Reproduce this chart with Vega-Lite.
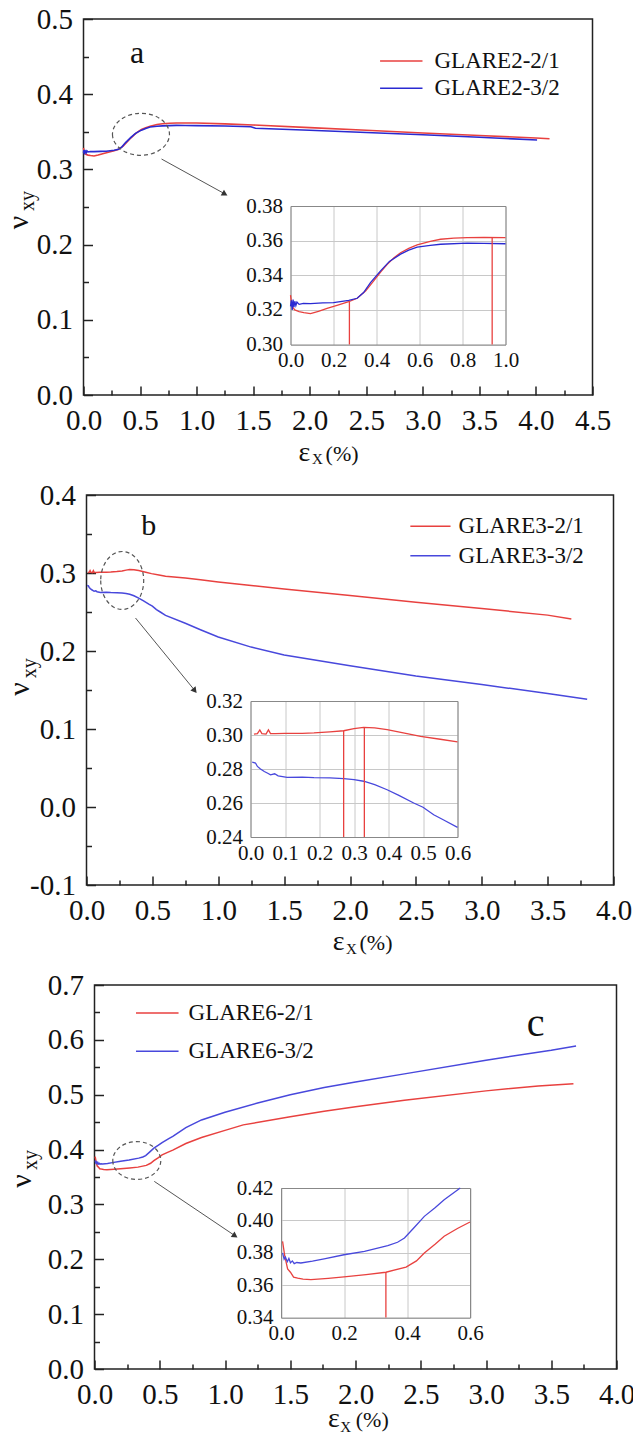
{
  "$schema": "https://vega.github.io/schema/vega-lite/v6.json",
  "background": "white",
  "padding": {"left": 2.5, "top": 4, "right": 0, "bottom": 0},
  "config": {
    "view": {"stroke": "#222", "strokeWidth": 1.5},
    "font": "Liberation Serif",
    "axis": {"labelFont": "Liberation Serif", "labelColor": "#111", "tickColor": "#222", "domainColor": "#222", "labelFlush": false, "labelOverlap": false},
    "text": {"font": "Liberation Serif", "color": "#111"}
  },
  "datasets": {
    "a": [
      {"x": 0, "v": 0.3285, "s": "GLARE2-2/1"}, {"x": 0.005, "v": 0.324, "s": "GLARE2-2/1"}, {"x": 0.01, "v": 0.3215, "s": "GLARE2-2/1"}, {"x": 0.02, "v": 0.32, "s": "GLARE2-2/1"}, {"x": 0.04, "v": 0.319, "s": "GLARE2-2/1"}, {"x": 0.062, "v": 0.3184, "s": "GLARE2-2/1"}, {"x": 0.093, "v": 0.3178, "s": "GLARE2-2/1"}, {"x": 0.13, "v": 0.3192, "s": "GLARE2-2/1"}, {"x": 0.17, "v": 0.3209, "s": "GLARE2-2/1"}, {"x": 0.22, "v": 0.3228, "s": "GLARE2-2/1"}, {"x": 0.271, "v": 0.3247, "s": "GLARE2-2/1"}, {"x": 0.31, "v": 0.3267, "s": "GLARE2-2/1"}, {"x": 0.35, "v": 0.331, "s": "GLARE2-2/1"}, {"x": 0.387, "v": 0.3367, "s": "GLARE2-2/1"}, {"x": 0.42, "v": 0.342, "s": "GLARE2-2/1"}, {"x": 0.45, "v": 0.3463, "s": "GLARE2-2/1"}, {"x": 0.48, "v": 0.35, "s": "GLARE2-2/1"}, {"x": 0.512, "v": 0.353, "s": "GLARE2-2/1"}, {"x": 0.55, "v": 0.3555, "s": "GLARE2-2/1"}, {"x": 0.589, "v": 0.3575, "s": "GLARE2-2/1"}, {"x": 0.65, "v": 0.3596, "s": "GLARE2-2/1"}, {"x": 0.698, "v": 0.3608, "s": "GLARE2-2/1"}, {"x": 0.76, "v": 0.3614, "s": "GLARE2-2/1"}, {"x": 0.822, "v": 0.3617, "s": "GLARE2-2/1"}, {"x": 0.9, "v": 0.3618, "s": "GLARE2-2/1"}, {"x": 1.0, "v": 0.3617, "s": "GLARE2-2/1"}, {"x": 1.25, "v": 0.3605, "s": "GLARE2-2/1"}, {"x": 1.5, "v": 0.359, "s": "GLARE2-2/1"}, {"x": 2.0, "v": 0.3555, "s": "GLARE2-2/1"}, {"x": 2.5, "v": 0.352, "s": "GLARE2-2/1"}, {"x": 3.0, "v": 0.3485, "s": "GLARE2-2/1"}, {"x": 3.5, "v": 0.345, "s": "GLARE2-2/1"}, {"x": 4.0, "v": 0.3418, "s": "GLARE2-2/1"}, {"x": 4.12, "v": 0.3408, "s": "GLARE2-2/1"},
      {"x": 0, "v": 0.322, "s": "GLARE2-3/2"}, {"x": 0.004, "v": 0.3255, "s": "GLARE2-3/2"}, {"x": 0.008, "v": 0.32, "s": "GLARE2-3/2"}, {"x": 0.012, "v": 0.326, "s": "GLARE2-3/2"}, {"x": 0.016, "v": 0.3215, "s": "GLARE2-3/2"}, {"x": 0.02, "v": 0.325, "s": "GLARE2-3/2"}, {"x": 0.025, "v": 0.3225, "s": "GLARE2-3/2"}, {"x": 0.03, "v": 0.3245, "s": "GLARE2-3/2"}, {"x": 0.04, "v": 0.3232, "s": "GLARE2-3/2"}, {"x": 0.06, "v": 0.3238, "s": "GLARE2-3/2"}, {"x": 0.093, "v": 0.3236, "s": "GLARE2-3/2"}, {"x": 0.15, "v": 0.324, "s": "GLARE2-3/2"}, {"x": 0.2, "v": 0.3242, "s": "GLARE2-3/2"}, {"x": 0.271, "v": 0.3255, "s": "GLARE2-3/2"}, {"x": 0.31, "v": 0.3267, "s": "GLARE2-3/2"}, {"x": 0.34, "v": 0.33, "s": "GLARE2-3/2"}, {"x": 0.372, "v": 0.3357, "s": "GLARE2-3/2"}, {"x": 0.419, "v": 0.3425, "s": "GLARE2-3/2"}, {"x": 0.46, "v": 0.348, "s": "GLARE2-3/2"}, {"x": 0.512, "v": 0.3522, "s": "GLARE2-3/2"}, {"x": 0.55, "v": 0.3545, "s": "GLARE2-3/2"}, {"x": 0.589, "v": 0.3563, "s": "GLARE2-3/2"}, {"x": 0.65, "v": 0.3573, "s": "GLARE2-3/2"}, {"x": 0.698, "v": 0.3579, "s": "GLARE2-3/2"}, {"x": 0.822, "v": 0.3586, "s": "GLARE2-3/2"}, {"x": 0.9, "v": 0.3584, "s": "GLARE2-3/2"}, {"x": 1.0, "v": 0.3582, "s": "GLARE2-3/2"}, {"x": 1.25, "v": 0.3577, "s": "GLARE2-3/2"}, {"x": 1.48, "v": 0.3568, "s": "GLARE2-3/2"}, {"x": 1.52, "v": 0.3548, "s": "GLARE2-3/2"}, {"x": 2.0, "v": 0.352, "s": "GLARE2-3/2"}, {"x": 2.5, "v": 0.349, "s": "GLARE2-3/2"}, {"x": 3.0, "v": 0.346, "s": "GLARE2-3/2"}, {"x": 3.5, "v": 0.3428, "s": "GLARE2-3/2"}, {"x": 4.01, "v": 0.339, "s": "GLARE2-3/2"}
    ],
    "b": [
      {"x": 0.01, "v": 0.3005, "s": "GLARE3-2/1"}, {"x": 0.02, "v": 0.3008, "s": "GLARE3-2/1"}, {"x": 0.027, "v": 0.303, "s": "GLARE3-2/1"}, {"x": 0.033, "v": 0.3008, "s": "GLARE3-2/1"}, {"x": 0.045, "v": 0.3005, "s": "GLARE3-2/1"}, {"x": 0.052, "v": 0.303, "s": "GLARE3-2/1"}, {"x": 0.058, "v": 0.3008, "s": "GLARE3-2/1"}, {"x": 0.072, "v": 0.3008, "s": "GLARE3-2/1"}, {"x": 0.1, "v": 0.301, "s": "GLARE3-2/1"}, {"x": 0.15, "v": 0.301, "s": "GLARE3-2/1"}, {"x": 0.184, "v": 0.3012, "s": "GLARE3-2/1"}, {"x": 0.23, "v": 0.3018, "s": "GLARE3-2/1"}, {"x": 0.27, "v": 0.3025, "s": "GLARE3-2/1"}, {"x": 0.3, "v": 0.3037, "s": "GLARE3-2/1"}, {"x": 0.328, "v": 0.3045, "s": "GLARE3-2/1"}, {"x": 0.36, "v": 0.3042, "s": "GLARE3-2/1"}, {"x": 0.396, "v": 0.3031, "s": "GLARE3-2/1"}, {"x": 0.45, "v": 0.301, "s": "GLARE3-2/1"}, {"x": 0.493, "v": 0.2992, "s": "GLARE3-2/1"}, {"x": 0.55, "v": 0.2975, "s": "GLARE3-2/1"}, {"x": 0.6, "v": 0.2959, "s": "GLARE3-2/1"}, {"x": 0.75, "v": 0.2935, "s": "GLARE3-2/1"}, {"x": 0.865, "v": 0.2914, "s": "GLARE3-2/1"}, {"x": 1.0, "v": 0.2885, "s": "GLARE3-2/1"}, {"x": 1.25, "v": 0.284, "s": "GLARE3-2/1"}, {"x": 1.5, "v": 0.2795, "s": "GLARE3-2/1"}, {"x": 2.0, "v": 0.271, "s": "GLARE3-2/1"}, {"x": 2.5, "v": 0.2625, "s": "GLARE3-2/1"}, {"x": 3.0, "v": 0.2545, "s": "GLARE3-2/1"}, {"x": 3.5, "v": 0.246, "s": "GLARE3-2/1"}, {"x": 3.68, "v": 0.241, "s": "GLARE3-2/1"},
      {"x": 0.005, "v": 0.284, "s": "GLARE3-3/2"}, {"x": 0.0145, "v": 0.2835, "s": "GLARE3-3/2"}, {"x": 0.02, "v": 0.2815, "s": "GLARE3-3/2"}, {"x": 0.029, "v": 0.28, "s": "GLARE3-3/2"}, {"x": 0.04, "v": 0.2785, "s": "GLARE3-3/2"}, {"x": 0.05, "v": 0.2775, "s": "GLARE3-3/2"}, {"x": 0.058, "v": 0.2766, "s": "GLARE3-3/2"}, {"x": 0.07, "v": 0.2772, "s": "GLARE3-3/2"}, {"x": 0.08, "v": 0.276, "s": "GLARE3-3/2"}, {"x": 0.106, "v": 0.2751, "s": "GLARE3-3/2"}, {"x": 0.15, "v": 0.2752, "s": "GLARE3-3/2"}, {"x": 0.184, "v": 0.2749, "s": "GLARE3-3/2"}, {"x": 0.23, "v": 0.2748, "s": "GLARE3-3/2"}, {"x": 0.27, "v": 0.2743, "s": "GLARE3-3/2"}, {"x": 0.3, "v": 0.2738, "s": "GLARE3-3/2"}, {"x": 0.328, "v": 0.2728, "s": "GLARE3-3/2"}, {"x": 0.36, "v": 0.2708, "s": "GLARE3-3/2"}, {"x": 0.396, "v": 0.2678, "s": "GLARE3-3/2"}, {"x": 0.43, "v": 0.2645, "s": "GLARE3-3/2"}, {"x": 0.473, "v": 0.26, "s": "GLARE3-3/2"}, {"x": 0.5, "v": 0.2575, "s": "GLARE3-3/2"}, {"x": 0.531, "v": 0.2531, "s": "GLARE3-3/2"}, {"x": 0.56, "v": 0.25, "s": "GLARE3-3/2"}, {"x": 0.6, "v": 0.2457, "s": "GLARE3-3/2"}, {"x": 0.75, "v": 0.2355, "s": "GLARE3-3/2"}, {"x": 0.865, "v": 0.2273, "s": "GLARE3-3/2"}, {"x": 1.0, "v": 0.218, "s": "GLARE3-3/2"}, {"x": 1.25, "v": 0.205, "s": "GLARE3-3/2"}, {"x": 1.5, "v": 0.195, "s": "GLARE3-3/2"}, {"x": 2.0, "v": 0.181, "s": "GLARE3-3/2"}, {"x": 2.5, "v": 0.168, "s": "GLARE3-3/2"}, {"x": 3.0, "v": 0.157, "s": "GLARE3-3/2"}, {"x": 3.5, "v": 0.1455, "s": "GLARE3-3/2"}, {"x": 3.8, "v": 0.138, "s": "GLARE3-3/2"}
    ],
    "c": [
      {"x": 0.005, "v": 0.387, "s": "GLARE6-2/1"}, {"x": 0.012, "v": 0.378, "s": "GLARE6-2/1"}, {"x": 0.021, "v": 0.37, "s": "GLARE6-2/1"}, {"x": 0.03, "v": 0.368, "s": "GLARE6-2/1"}, {"x": 0.04, "v": 0.365, "s": "GLARE6-2/1"}, {"x": 0.053, "v": 0.3644, "s": "GLARE6-2/1"}, {"x": 0.07, "v": 0.3638, "s": "GLARE6-2/1"}, {"x": 0.095, "v": 0.3634, "s": "GLARE6-2/1"}, {"x": 0.15, "v": 0.3642, "s": "GLARE6-2/1"}, {"x": 0.2, "v": 0.3651, "s": "GLARE6-2/1"}, {"x": 0.27, "v": 0.3665, "s": "GLARE6-2/1"}, {"x": 0.333, "v": 0.368, "s": "GLARE6-2/1"}, {"x": 0.397, "v": 0.3712, "s": "GLARE6-2/1"}, {"x": 0.43, "v": 0.375, "s": "GLARE6-2/1"}, {"x": 0.455, "v": 0.3799, "s": "GLARE6-2/1"}, {"x": 0.49, "v": 0.3855, "s": "GLARE6-2/1"}, {"x": 0.518, "v": 0.3902, "s": "GLARE6-2/1"}, {"x": 0.56, "v": 0.395, "s": "GLARE6-2/1"}, {"x": 0.6, "v": 0.399, "s": "GLARE6-2/1"}, {"x": 0.7, "v": 0.411, "s": "GLARE6-2/1"}, {"x": 0.82, "v": 0.422, "s": "GLARE6-2/1"}, {"x": 1.0, "v": 0.435, "s": "GLARE6-2/1"}, {"x": 1.14, "v": 0.445, "s": "GLARE6-2/1"}, {"x": 1.5, "v": 0.46, "s": "GLARE6-2/1"}, {"x": 1.76, "v": 0.47, "s": "GLARE6-2/1"}, {"x": 2.0, "v": 0.478, "s": "GLARE6-2/1"}, {"x": 2.375, "v": 0.49, "s": "GLARE6-2/1"}, {"x": 3.0, "v": 0.507, "s": "GLARE6-2/1"}, {"x": 3.4, "v": 0.516, "s": "GLARE6-2/1"}, {"x": 3.67, "v": 0.52, "s": "GLARE6-2/1"},
      {"x": 0.005, "v": 0.38, "s": "GLARE6-3/2"}, {"x": 0.01, "v": 0.376, "s": "GLARE6-3/2"}, {"x": 0.014, "v": 0.3774, "s": "GLARE6-3/2"}, {"x": 0.02, "v": 0.3745, "s": "GLARE6-3/2"}, {"x": 0.025, "v": 0.3765, "s": "GLARE6-3/2"}, {"x": 0.03, "v": 0.3738, "s": "GLARE6-3/2"}, {"x": 0.036, "v": 0.375, "s": "GLARE6-3/2"}, {"x": 0.042, "v": 0.3733, "s": "GLARE6-3/2"}, {"x": 0.05, "v": 0.374, "s": "GLARE6-3/2"}, {"x": 0.063, "v": 0.3737, "s": "GLARE6-3/2"}, {"x": 0.1, "v": 0.3748, "s": "GLARE6-3/2"}, {"x": 0.137, "v": 0.3762, "s": "GLARE6-3/2"}, {"x": 0.2, "v": 0.3788, "s": "GLARE6-3/2"}, {"x": 0.265, "v": 0.3809, "s": "GLARE6-3/2"}, {"x": 0.339, "v": 0.3844, "s": "GLARE6-3/2"}, {"x": 0.37, "v": 0.3865, "s": "GLARE6-3/2"}, {"x": 0.392, "v": 0.3891, "s": "GLARE6-3/2"}, {"x": 0.42, "v": 0.395, "s": "GLARE6-3/2"}, {"x": 0.455, "v": 0.4025, "s": "GLARE6-3/2"}, {"x": 0.49, "v": 0.408, "s": "GLARE6-3/2"}, {"x": 0.518, "v": 0.4128, "s": "GLARE6-3/2"}, {"x": 0.569, "v": 0.42, "s": "GLARE6-3/2"}, {"x": 0.6, "v": 0.424, "s": "GLARE6-3/2"}, {"x": 0.7, "v": 0.44, "s": "GLARE6-3/2"}, {"x": 0.82, "v": 0.454, "s": "GLARE6-3/2"}, {"x": 1.0, "v": 0.468, "s": "GLARE6-3/2"}, {"x": 1.25, "v": 0.485, "s": "GLARE6-3/2"}, {"x": 1.5, "v": 0.5, "s": "GLARE6-3/2"}, {"x": 1.76, "v": 0.513, "s": "GLARE6-3/2"}, {"x": 2.0, "v": 0.523, "s": "GLARE6-3/2"}, {"x": 2.375, "v": 0.538, "s": "GLARE6-3/2"}, {"x": 3.0, "v": 0.563, "s": "GLARE6-3/2"}, {"x": 3.5, "v": 0.581, "s": "GLARE6-3/2"}, {"x": 3.69, "v": 0.589, "s": "GLARE6-3/2"}
    ],
    "ra": [{"x": 0.274, "y0": 0.3, "y1": 0.325}, {"x": 0.938, "y0": 0.3, "y1": 0.3617}],
    "rb": [{"x": 0.27, "y0": 0.24, "y1": 0.3025}, {"x": 0.33, "y0": 0.24, "y1": 0.3045}],
    "rc": [{"x": 0.333, "y0": 0.34, "y1": 0.368}]
  },
  "vconcat": [
    {"spacing": 0, "hconcat": [
    {"width": 1, "height": 10, "data": {"values": []}, "mark": "point", "view": {"stroke": null}},
    {
      "width": 509, "height": 376,
      "layer": [
        {
          "layer": [
            {
              "data": {"name": "a"},
              "mark": {"type": "line", "strokeWidth": 1.6},
              "encoding": {
                "x": {"field": "x", "type": "quantitative", "scale": {"domain": [0, 4.5], "nice": false, "zero": false},
                  "axis": {"orient": "bottom", "values": [0, 0.5, 1, 1.5, 2, 2.5, 3, 3.5, 4, 4.5], "format": ".1f", "title": null, "grid": false, "domain": false, "tickSize": -9, "tickWidth": 1.5, "labelPadding": 20, "labelFontSize": 29, "labelFont": "Liberation Serif"}},
                "y": {"field": "v", "type": "quantitative", "scale": {"domain": [0, 0.5], "nice": false, "zero": false},
                  "axis": {"orient": "left", "values": [0, 0.1, 0.2, 0.3, 0.4, 0.5], "format": ".1f", "title": null, "grid": false, "domain": false, "tickSize": -9, "tickWidth": 1.5, "labelPadding": 20, "labelFontSize": 29, "labelFont": "Liberation Serif"}},
                "color": {"field": "s", "type": "nominal", "scale": {"domain": ["GLARE2-2/1", "GLARE2-3/2"], "range": ["#e8413f", "#2a2ad2"]}, "legend": null}
              }
            },
            {
              "data": {"values": [{}]},
              "mark": {"type": "point", "shape": "M-1,0A1,0.737 0 1,0 1,0A1,0.737 0 1,0 -1,0", "size": 3249, "filled": false, "stroke": "#555", "strokeWidth": 1.2, "strokeDash": [4, 3], "opacity": 1},
              "encoding": {
                "x": {"datum": 0.508, "type": "quantitative", "scale": {"domain": [0, 4.5], "nice": false, "zero": false},
                  "axis": {"orient": "bottom", "values": [0.25, 0.75, 1.25, 1.75, 2.25, 2.75, 3.25, 3.75, 4.25], "labels": false, "domain": false, "grid": false, "tickSize": -5, "tickWidth": 1.5, "title": null}},
                "y": {"datum": 0.3467, "type": "quantitative", "scale": {"domain": [0, 0.5], "nice": false, "zero": false},
                  "axis": {"orient": "left", "values": [0.05, 0.15, 0.25, 0.35, 0.45], "labels": false, "domain": false, "grid": false, "tickSize": -5, "tickWidth": 1.5, "title": null}}
              }
            },
            {
              "data": {"values": [{}]},
              "mark": {"type": "rule", "stroke": "#555", "strokeWidth": 1},
              "encoding": {
                "x": {"datum": 0.69, "type": "quantitative", "scale": {"domain": [0, 4.5], "nice": false, "zero": false}, "axis": null},
                "y": {"datum": 0.3138, "type": "quantitative", "scale": {"domain": [0, 0.5], "nice": false, "zero": false}, "axis": null},
                "x2": {"datum": 1.256}, "y2": {"datum": 0.2669}
              }
            },
            {
              "data": {"values": [{}]},
              "mark": {"type": "point", "shape": "triangle-right", "size": 45, "filled": true, "color": "#333", "angle": 29, "opacity": 1},
              "encoding": {
                "x": {"datum": 1.25, "type": "quantitative", "scale": {"domain": [0, 4.5], "nice": false, "zero": false}, "axis": null},
                "y": {"datum": 0.2673, "type": "quantitative", "scale": {"domain": [0, 0.5], "nice": false, "zero": false}, "axis": null}
              }
            },
            {
              "data": {"values": [{}]},
              "mark": {"type": "rule", "color": "#e8413f", "strokeWidth": 1.5},
              "encoding": {
                "x": {"datum": 2.622, "type": "quantitative", "scale": {"domain": [0, 4.5], "nice": false, "zero": false}, "axis": null},
                "x2": {"datum": 2.997},
                "y": {"datum": 0.4441, "type": "quantitative", "scale": {"domain": [0, 0.5], "nice": false, "zero": false}, "axis": null}
              }
            },
            {
              "data": {"values": [{}]},
              "mark": {"type": "rule", "color": "#2a2ad2", "strokeWidth": 1.5},
              "encoding": {
                "x": {"datum": 2.622, "type": "quantitative", "scale": {"domain": [0, 4.5], "nice": false, "zero": false}, "axis": null},
                "x2": {"datum": 2.997},
                "y": {"datum": 0.4078, "type": "quantitative", "scale": {"domain": [0, 0.5], "nice": false, "zero": false}, "axis": null}
              }
            },
            {
              "data": {"values": [{}]},
              "mark": {"type": "text", "text": "GLARE2-2/1", "fontSize": 23, "align": "left", "baseline": "middle"},
              "encoding": {
                "x": {"datum": 3.103, "type": "quantitative", "scale": {"domain": [0, 4.5], "nice": false, "zero": false}, "axis": null},
                "y": {"datum": 0.4441, "type": "quantitative", "scale": {"domain": [0, 0.5], "nice": false, "zero": false}, "axis": null}
              }
            },
            {
              "data": {"values": [{}]},
              "mark": {"type": "text", "text": "GLARE2-3/2", "fontSize": 23, "align": "left", "baseline": "middle"},
              "encoding": {
                "x": {"datum": 3.103, "type": "quantitative", "scale": {"domain": [0, 4.5], "nice": false, "zero": false}, "axis": null},
                "y": {"datum": 0.4078, "type": "quantitative", "scale": {"domain": [0, 0.5], "nice": false, "zero": false}, "axis": null}
              }
            },
            {
              "data": {"values": [{}]},
              "mark": {"type": "text", "text": "a", "fontSize": 32, "align": "center", "baseline": "alphabetic"},
              "encoding": {
                "x": {"datum": 0.474, "type": "quantitative", "scale": {"domain": [0, 4.5], "nice": false, "zero": false}, "axis": null},
                "y": {"datum": 0.442, "type": "quantitative", "scale": {"domain": [0, 0.5], "nice": false, "zero": false}, "axis": null}
              }
            },
            {
              "data": {"values": [{}]},
              "mark": {"type": "text", "text": "ν", "fontSize": 30, "angle": 270, "align": "center", "baseline": "alphabetic"},
              "encoding": {
                "x": {"datum": -0.4863, "type": "quantitative", "scale": {"domain": [0, 4.5], "nice": false, "zero": false}, "axis": null},
                "y": {"datum": 0.2294, "type": "quantitative", "scale": {"domain": [0, 0.5], "nice": false, "zero": false}, "axis": null}
              }
            },
            {
              "data": {"values": [{}]},
              "mark": {"type": "text", "text": "xy", "fontSize": 20, "angle": 270, "align": "center", "baseline": "alphabetic"},
              "encoding": {
                "x": {"datum": -0.4333, "type": "quantitative", "scale": {"domain": [0, 4.5], "nice": false, "zero": false}, "axis": null},
                "y": {"datum": 0.258, "type": "quantitative", "scale": {"domain": [0, 0.5], "nice": false, "zero": false}, "axis": null}
              }
            },
            {
              "data": {"values": [{}]},
              "mark": {"type": "text", "text": "ε", "fontSize": 28, "align": "center", "baseline": "alphabetic"},
              "encoding": {
                "x": {"datum": 1.952, "type": "quantitative", "scale": {"domain": [0, 4.5], "nice": false, "zero": false}, "axis": null},
                "y": {"datum": -0.0878, "type": "quantitative", "scale": {"domain": [0, 0.5], "nice": false, "zero": false}, "axis": null}
              }
            },
            {
              "data": {"values": [{}]},
              "mark": {"type": "text", "text": "X", "fontSize": 15, "align": "center", "baseline": "alphabetic"},
              "encoding": {
                "x": {"datum": 2.069, "type": "quantitative", "scale": {"domain": [0, 4.5], "nice": false, "zero": false}, "axis": null},
                "y": {"datum": -0.0918, "type": "quantitative", "scale": {"domain": [0, 0.5], "nice": false, "zero": false}, "axis": null}
              }
            },
            {
              "data": {"values": [{}]},
              "mark": {"type": "text", "text": "(%)", "fontSize": 22, "align": "left", "baseline": "alphabetic"},
              "encoding": {
                "x": {"datum": 2.14, "type": "quantitative", "scale": {"domain": [0, 4.5], "nice": false, "zero": false}, "axis": null},
                "y": {"datum": -0.0878, "type": "quantitative", "scale": {"domain": [0, 0.5], "nice": false, "zero": false}, "axis": null}
              }
            }
          ],
          "resolve": {"axis": {"x": "independent", "y": "independent"}}
        },
        {
          "layer": [
            {
              "data": {"name": "a"},
              "transform": [{"filter": "datum.x <= 1.0"}],
              "mark": {"type": "line", "strokeWidth": 1.3},
              "encoding": {
                "x": {"field": "x", "type": "quantitative", "scale": {"domain": [0, 1], "range": [207, 422], "nice": false, "zero": false},
                  "axis": {"orient": "bottom", "offset": -50.5, "values": [0, 0.2, 0.4, 0.6, 0.8, 1.0], "format": ".1f", "title": null, "grid": false, "domain": true, "domainColor": "#888", "domainWidth": 1, "ticks": false, "labelPadding": 5, "labelFontSize": 21, "labelFont": "Liberation Serif"}},
                "y": {"field": "v", "type": "quantitative", "scale": {"domain": [0.3, 0.38], "range": [325.5, 187], "nice": false, "zero": false},
                  "axis": {"orient": "left", "offset": -207, "values": [0.3, 0.32, 0.34, 0.36, 0.38], "format": ".2f", "title": null, "grid": true, "gridColor": "#c8c8c8", "domain": true, "domainColor": "#888", "domainWidth": 1, "ticks": false, "labelPadding": 8, "labelFontSize": 21, "labelFont": "Liberation Serif"}},
                "color": {"field": "s", "type": "nominal", "scale": {"domain": ["GLARE2-2/1", "GLARE2-3/2"], "range": ["#e8413f", "#2a2ad2"]}, "legend": null}
              }
            },
            {
              "data": {"name": "ra"},
              "mark": {"type": "rule", "color": "#e8413f", "strokeWidth": 1.3},
              "encoding": {
                "x": {"field": "x", "type": "quantitative", "scale": {"domain": [0, 1], "range": [207, 422], "nice": false, "zero": false},
                  "axis": {"orient": "top", "offset": -187, "values": [0, 0.2, 0.4, 0.6, 0.8, 1.0], "labels": false, "ticks": false, "domain": true, "domainColor": "#888", "domainWidth": 1, "grid": true, "gridColor": "#c8c8c8", "title": null}},
                "y": {"field": "y0", "type": "quantitative", "scale": {"domain": [0.3, 0.38], "range": [325.5, 187], "nice": false, "zero": false},
                  "axis": {"orient": "right", "offset": -87, "labels": false, "ticks": false, "domain": true, "domainColor": "#888", "domainWidth": 1, "grid": false, "title": null}},
                "y2": {"field": "y1"}
              }
            }
          ],
          "resolve": {"axis": {"x": "independent", "y": "independent"}}
        }
      ],
      "resolve": {"scale": {"x": "independent", "y": "independent"}}
    }
    ]},
    {"spacing": 0, "hconcat": [
    {"width": 1, "height": 10, "data": {"values": []}, "mark": "point", "view": {"stroke": null}},
    {
      "width": 527, "height": 390,
      "layer": [
        {
          "layer": [
            {
              "data": {"name": "b"},
              "mark": {"type": "line", "strokeWidth": 1.5},
              "encoding": {
                "x": {"field": "x", "type": "quantitative", "scale": {"domain": [0, 4], "nice": false, "zero": false},
                  "axis": {"orient": "bottom", "values": [0, 0.5, 1, 1.5, 2, 2.5, 3, 3.5, 4], "format": ".1f", "title": null, "grid": false, "domain": false, "tickSize": -9, "tickWidth": 1.5, "labelPadding": 20, "labelFontSize": 29, "labelFont": "Liberation Serif"}},
                "y": {"field": "v", "type": "quantitative", "scale": {"domain": [-0.1, 0.4], "nice": false, "zero": false},
                  "axis": {"orient": "left", "values": [-0.1, 0, 0.1, 0.2, 0.3, 0.4], "labelExpr": "datum.value < 0 ? '-' + format(-datum.value, '.1f') : format(datum.value, '.1f')", "title": null, "grid": false, "domain": false, "tickSize": -9, "tickWidth": 1.5, "labelPadding": 20, "labelFontSize": 29, "labelFont": "Liberation Serif"}},
                "color": {"field": "s", "type": "nominal", "scale": {"domain": ["GLARE3-2/1", "GLARE3-3/2"], "range": ["#e8413f", "#4848dc"]}, "legend": null}
              }
            },
            {
              "data": {"values": [{}]},
              "mark": {"type": "point", "shape": "M-0.741,0A0.741,1 0 1,0 0.741,0A0.741,1 0 1,0 -0.741,0", "size": 3364, "filled": false, "stroke": "#555", "strokeWidth": 1.2, "strokeDash": [4, 3], "opacity": 1},
              "encoding": {
                "x": {"datum": 0.271, "type": "quantitative", "scale": {"domain": [0, 4], "nice": false, "zero": false},
                  "axis": {"orient": "bottom", "values": [0.25, 0.75, 1.25, 1.75, 2.25, 2.75, 3.25, 3.75], "labels": false, "domain": false, "grid": false, "tickSize": -5, "tickWidth": 1.5, "title": null}},
                "y": {"datum": 0.2904, "type": "quantitative", "scale": {"domain": [-0.1, 0.4], "nice": false, "zero": false},
                  "axis": {"orient": "left", "values": [-0.05, 0.05, 0.15, 0.25, 0.35], "labels": false, "domain": false, "grid": false, "tickSize": -5, "tickWidth": 1.5, "title": null}}
              }
            },
            {
              "data": {"values": [{}]},
              "mark": {"type": "rule", "stroke": "#555", "strokeWidth": 1},
              "encoding": {
                "x": {"datum": 0.372, "type": "quantitative", "scale": {"domain": [0, 4], "nice": false, "zero": false}, "axis": null},
                "y": {"datum": 0.2423, "type": "quantitative", "scale": {"domain": [-0.1, 0.4], "nice": false, "zero": false}, "axis": null},
                "x2": {"datum": 0.827}, "y2": {"datum": 0.1483}
              }
            },
            {
              "data": {"values": [{}]},
              "mark": {"type": "point", "shape": "triangle-right", "size": 45, "filled": true, "color": "#333", "angle": 51, "opacity": 1},
              "encoding": {
                "x": {"datum": 0.822, "type": "quantitative", "scale": {"domain": [0, 4], "nice": false, "zero": false}, "axis": null},
                "y": {"datum": 0.1492, "type": "quantitative", "scale": {"domain": [-0.1, 0.4], "nice": false, "zero": false}, "axis": null}
              }
            },
            {
              "data": {"values": [{}]},
              "mark": {"type": "rule", "color": "#e8413f", "strokeWidth": 1.5},
              "encoding": {
                "x": {"datum": 2.458, "type": "quantitative", "scale": {"domain": [0, 4], "nice": false, "zero": false}, "axis": null},
                "x2": {"datum": 2.763},
                "y": {"datum": 0.3599, "type": "quantitative", "scale": {"domain": [-0.1, 0.4], "nice": false, "zero": false}, "axis": null}
              }
            },
            {
              "data": {"values": [{}]},
              "mark": {"type": "rule", "color": "#4848dc", "strokeWidth": 1.5},
              "encoding": {
                "x": {"datum": 2.458, "type": "quantitative", "scale": {"domain": [0, 4], "nice": false, "zero": false}, "axis": null},
                "x2": {"datum": 2.763},
                "y": {"datum": 0.3222, "type": "quantitative", "scale": {"domain": [-0.1, 0.4], "nice": false, "zero": false}, "axis": null}
              }
            },
            {
              "data": {"values": [{}]},
              "mark": {"type": "text", "text": "GLARE3-2/1", "fontSize": 23, "align": "left", "baseline": "middle"},
              "encoding": {
                "x": {"datum": 2.824, "type": "quantitative", "scale": {"domain": [0, 4], "nice": false, "zero": false}, "axis": null},
                "y": {"datum": 0.3599, "type": "quantitative", "scale": {"domain": [-0.1, 0.4], "nice": false, "zero": false}, "axis": null}
              }
            },
            {
              "data": {"values": [{}]},
              "mark": {"type": "text", "text": "GLARE3-3/2", "fontSize": 23, "align": "left", "baseline": "middle"},
              "encoding": {
                "x": {"datum": 2.824, "type": "quantitative", "scale": {"domain": [0, 4], "nice": false, "zero": false}, "axis": null},
                "y": {"datum": 0.3222, "type": "quantitative", "scale": {"domain": [-0.1, 0.4], "nice": false, "zero": false}, "axis": null}
              }
            },
            {
              "data": {"values": [{}]},
              "mark": {"type": "text", "text": "b", "fontSize": 30, "align": "center", "baseline": "alphabetic"},
              "encoding": {
                "x": {"datum": 0.473, "type": "quantitative", "scale": {"domain": [0, 4], "nice": false, "zero": false}, "axis": null},
                "y": {"datum": 0.349, "type": "quantitative", "scale": {"domain": [-0.1, 0.4], "nice": false, "zero": false}, "axis": null}
              }
            },
            {
              "data": {"values": [{}]},
              "mark": {"type": "text", "text": "ν", "fontSize": 30, "angle": 270, "align": "center", "baseline": "alphabetic"},
              "encoding": {
                "x": {"datum": -0.4402, "type": "quantitative", "scale": {"domain": [0, 4], "nice": false, "zero": false}, "axis": null},
                "y": {"datum": 0.1513, "type": "quantitative", "scale": {"domain": [-0.1, 0.4], "nice": false, "zero": false}, "axis": null}
              }
            },
            {
              "data": {"values": [{}]},
              "mark": {"type": "text", "text": "xy", "fontSize": 20, "angle": 270, "align": "center", "baseline": "alphabetic"},
              "encoding": {
                "x": {"datum": -0.387, "type": "quantitative", "scale": {"domain": [0, 4], "nice": false, "zero": false}, "axis": null},
                "y": {"datum": 0.178, "type": "quantitative", "scale": {"domain": [-0.1, 0.4], "nice": false, "zero": false}, "axis": null}
              }
            },
            {
              "data": {"values": [{}]},
              "mark": {"type": "text", "text": "ε", "fontSize": 28, "align": "center", "baseline": "alphabetic"},
              "encoding": {
                "x": {"datum": 1.913, "type": "quantitative", "scale": {"domain": [0, 4], "nice": false, "zero": false}, "axis": null},
                "y": {"datum": -0.1834, "type": "quantitative", "scale": {"domain": [-0.1, 0.4], "nice": false, "zero": false}, "axis": null}
              }
            },
            {
              "data": {"values": [{}]},
              "mark": {"type": "text", "text": "X", "fontSize": 15, "align": "center", "baseline": "alphabetic"},
              "encoding": {
                "x": {"datum": 2.0114, "type": "quantitative", "scale": {"domain": [0, 4], "nice": false, "zero": false}, "axis": null},
                "y": {"datum": -0.1885, "type": "quantitative", "scale": {"domain": [-0.1, 0.4], "nice": false, "zero": false}, "axis": null}
              }
            },
            {
              "data": {"values": [{}]},
              "mark": {"type": "text", "text": "(%)", "fontSize": 22, "align": "left", "baseline": "alphabetic"},
              "encoding": {
                "x": {"datum": 2.072, "type": "quantitative", "scale": {"domain": [0, 4], "nice": false, "zero": false}, "axis": null},
                "y": {"datum": -0.1834, "type": "quantitative", "scale": {"domain": [-0.1, 0.4], "nice": false, "zero": false}, "axis": null}
              }
            }
          ],
          "resolve": {"axis": {"x": "independent", "y": "independent"}}
        },
        {
          "layer": [
            {
              "data": {"name": "b"},
              "transform": [{"filter": "datum.x <= 0.6"}],
              "mark": {"type": "line", "strokeWidth": 1.3},
              "encoding": {
                "x": {"field": "x", "type": "quantitative", "scale": {"domain": [0, 0.6], "range": [164, 371], "nice": false, "zero": false},
                  "axis": {"orient": "bottom", "offset": -48, "values": [0, 0.1, 0.2, 0.3, 0.4, 0.5, 0.6], "format": ".1f", "title": null, "grid": false, "domain": true, "domainColor": "#888", "domainWidth": 1, "ticks": false, "labelPadding": 5, "labelFontSize": 21, "labelFont": "Liberation Serif"}},
                "y": {"field": "v", "type": "quantitative", "scale": {"domain": [0.24, 0.32], "range": [342, 206], "nice": false, "zero": false},
                  "axis": {"orient": "left", "offset": -164, "values": [0.24, 0.26, 0.28, 0.3, 0.32], "format": ".2f", "title": null, "grid": true, "gridColor": "#c8c8c8", "domain": true, "domainColor": "#888", "domainWidth": 1, "ticks": false, "labelPadding": 8, "labelFontSize": 21, "labelFont": "Liberation Serif"}},
                "color": {"field": "s", "type": "nominal", "scale": {"domain": ["GLARE3-2/1", "GLARE3-3/2"], "range": ["#e8413f", "#4848dc"]}, "legend": null}
              }
            },
            {
              "data": {"name": "rb"},
              "mark": {"type": "rule", "color": "#e8413f", "strokeWidth": 1.3},
              "encoding": {
                "x": {"field": "x", "type": "quantitative", "scale": {"domain": [0, 0.6], "range": [164, 371], "nice": false, "zero": false},
                  "axis": {"orient": "top", "offset": -206, "values": [0, 0.1, 0.2, 0.3, 0.4, 0.5, 0.6], "labels": false, "ticks": false, "domain": true, "domainColor": "#888", "domainWidth": 1, "grid": true, "gridColor": "#c8c8c8", "title": null}},
                "y": {"field": "y0", "type": "quantitative", "scale": {"domain": [0.24, 0.32], "range": [342, 206], "nice": false, "zero": false},
                  "axis": {"orient": "right", "offset": -156, "labels": false, "ticks": false, "domain": true, "domainColor": "#888", "domainWidth": 1, "grid": false, "title": null}},
                "y2": {"field": "y1"}
              }
            }
          ],
          "resolve": {"axis": {"x": "independent", "y": "independent"}}
        }
      ],
      "resolve": {"scale": {"x": "independent", "y": "independent"}}
    }
    ]},
    {"spacing": 0, "hconcat": [
    {"width": 3, "height": 10, "data": {"values": []}, "mark": "point", "view": {"stroke": null}},
    {
      "width": 522, "height": 384,
      "layer": [
        {
          "layer": [
            {
              "data": {"name": "c"},
              "mark": {"type": "line", "strokeWidth": 1.5},
              "encoding": {
                "x": {"field": "x", "type": "quantitative", "scale": {"domain": [0, 4], "nice": false, "zero": false},
                  "axis": {"orient": "bottom", "values": [0, 0.5, 1, 1.5, 2, 2.5, 3, 3.5, 4], "format": ".1f", "title": null, "grid": false, "domain": false, "tickSize": -9, "tickWidth": 1.5, "labelPadding": 20, "labelFontSize": 29, "labelFont": "Liberation Serif"}},
                "y": {"field": "v", "type": "quantitative", "scale": {"domain": [0, 0.7], "nice": false, "zero": false},
                  "axis": {"orient": "left", "values": [0, 0.1, 0.2, 0.3, 0.4, 0.5, 0.6, 0.7], "format": ".1f", "title": null, "grid": false, "domain": false, "tickSize": -9, "tickWidth": 1.5, "labelPadding": 20, "labelFontSize": 29, "labelFont": "Liberation Serif"}},
                "color": {"field": "s", "type": "nominal", "scale": {"domain": ["GLARE6-2/1", "GLARE6-3/2"], "range": ["#e8413f", "#4848dc"]}, "legend": null}
              }
            },
            {
              "data": {"values": [{}]},
              "mark": {"type": "point", "shape": "M-1,0A1,0.79 0 1,0 1,0A1,0.79 0 1,0 -1,0", "size": 2304, "filled": false, "stroke": "#555", "strokeWidth": 1.2, "strokeDash": [4, 3], "opacity": 1},
              "encoding": {
                "x": {"datum": 0.324, "type": "quantitative", "scale": {"domain": [0, 4], "nice": false, "zero": false},
                  "axis": {"orient": "bottom", "values": [0.25, 0.75, 1.25, 1.75, 2.25, 2.75, 3.25, 3.75], "labels": false, "domain": false, "grid": false, "tickSize": -5, "tickWidth": 1.5, "title": null}},
                "y": {"datum": 0.38, "type": "quantitative", "scale": {"domain": [0, 0.7], "nice": false, "zero": false},
                  "axis": {"orient": "left", "values": [0.05, 0.15, 0.25, 0.35, 0.45, 0.55, 0.65], "labels": false, "domain": false, "grid": false, "tickSize": -5, "tickWidth": 1.5, "title": null}}
              }
            },
            {
              "data": {"values": [{}]},
              "mark": {"type": "rule", "stroke": "#555", "strokeWidth": 1},
              "encoding": {
                "x": {"datum": 0.458, "type": "quantitative", "scale": {"domain": [0, 4], "nice": false, "zero": false}, "axis": null},
                "y": {"datum": 0.342, "type": "quantitative", "scale": {"domain": [0, 0.7], "nice": false, "zero": false}, "axis": null},
                "x2": {"datum": 1.083}, "y2": {"datum": 0.2419}
              }
            },
            {
              "data": {"values": [{}]},
              "mark": {"type": "point", "shape": "triangle-right", "size": 45, "filled": true, "color": "#333", "angle": 34, "opacity": 1},
              "encoding": {
                "x": {"datum": 1.077, "type": "quantitative", "scale": {"domain": [0, 4], "nice": false, "zero": false}, "axis": null},
                "y": {"datum": 0.2427, "type": "quantitative", "scale": {"domain": [0, 0.7], "nice": false, "zero": false}, "axis": null}
              }
            },
            {
              "data": {"values": [{}]},
              "mark": {"type": "rule", "color": "#e8413f", "strokeWidth": 1.5},
              "encoding": {
                "x": {"datum": 0.318, "type": "quantitative", "scale": {"domain": [0, 4], "nice": false, "zero": false}, "axis": null},
                "x2": {"datum": 0.644},
                "y": {"datum": 0.6489, "type": "quantitative", "scale": {"domain": [0, 0.7], "nice": false, "zero": false}, "axis": null}
              }
            },
            {
              "data": {"values": [{}]},
              "mark": {"type": "rule", "color": "#4848dc", "strokeWidth": 1.5},
              "encoding": {
                "x": {"datum": 0.318, "type": "quantitative", "scale": {"domain": [0, 4], "nice": false, "zero": false}, "axis": null},
                "x2": {"datum": 0.644},
                "y": {"datum": 0.5791, "type": "quantitative", "scale": {"domain": [0, 0.7], "nice": false, "zero": false}, "axis": null}
              }
            },
            {
              "data": {"values": [{}]},
              "mark": {"type": "text", "text": "GLARE6-2/1", "fontSize": 23, "align": "left", "baseline": "middle"},
              "encoding": {
                "x": {"datum": 0.721, "type": "quantitative", "scale": {"domain": [0, 4], "nice": false, "zero": false}, "axis": null},
                "y": {"datum": 0.6489, "type": "quantitative", "scale": {"domain": [0, 0.7], "nice": false, "zero": false}, "axis": null}
              }
            },
            {
              "data": {"values": [{}]},
              "mark": {"type": "text", "text": "GLARE6-3/2", "fontSize": 23, "align": "left", "baseline": "middle"},
              "encoding": {
                "x": {"datum": 0.721, "type": "quantitative", "scale": {"domain": [0, 4], "nice": false, "zero": false}, "axis": null},
                "y": {"datum": 0.5791, "type": "quantitative", "scale": {"domain": [0, 0.7], "nice": false, "zero": false}, "axis": null}
              }
            },
            {
              "data": {"values": [{}]},
              "mark": {"type": "text", "text": "c", "fontSize": 40, "align": "center", "baseline": "alphabetic"},
              "encoding": {
                "x": {"datum": 3.38, "type": "quantitative", "scale": {"domain": [0, 4], "nice": false, "zero": false}, "axis": null},
                "y": {"datum": 0.6065, "type": "quantitative", "scale": {"domain": [0, 0.7], "nice": false, "zero": false}, "axis": null}
              }
            },
            {
              "data": {"values": [{}]},
              "mark": {"type": "text", "text": "ν", "fontSize": 30, "angle": 270, "align": "center", "baseline": "alphabetic"},
              "encoding": {
                "x": {"datum": -0.4862, "type": "quantitative", "scale": {"domain": [0, 4], "nice": false, "zero": false}, "axis": null},
                "y": {"datum": 0.3427, "type": "quantitative", "scale": {"domain": [0, 0.7], "nice": false, "zero": false}, "axis": null}
              }
            },
            {
              "data": {"values": [{}]},
              "mark": {"type": "text", "text": "xy", "fontSize": 20, "angle": 270, "align": "center", "baseline": "alphabetic"},
              "encoding": {
                "x": {"datum": -0.4403, "type": "quantitative", "scale": {"domain": [0, 4], "nice": false, "zero": false}, "axis": null},
                "y": {"datum": 0.381, "type": "quantitative", "scale": {"domain": [0, 0.7], "nice": false, "zero": false}, "axis": null}
              }
            },
            {
              "data": {"values": [{}]},
              "mark": {"type": "text", "text": "ε", "fontSize": 28, "align": "center", "baseline": "alphabetic"},
              "encoding": {
                "x": {"datum": 1.834, "type": "quantitative", "scale": {"domain": [0, 4], "nice": false, "zero": false}, "axis": null},
                "y": {"datum": -0.1065, "type": "quantitative", "scale": {"domain": [0, 0.7], "nice": false, "zero": false}, "axis": null}
              }
            },
            {
              "data": {"values": [{}]},
              "mark": {"type": "text", "text": "X", "fontSize": 15, "align": "center", "baseline": "alphabetic"},
              "encoding": {
                "x": {"datum": 1.925, "type": "quantitative", "scale": {"domain": [0, 4], "nice": false, "zero": false}, "axis": null},
                "y": {"datum": -0.1155, "type": "quantitative", "scale": {"domain": [0, 0.7], "nice": false, "zero": false}, "axis": null}
              }
            },
            {
              "data": {"values": [{}]},
              "mark": {"type": "text", "text": "(%)", "fontSize": 22, "align": "left", "baseline": "alphabetic"},
              "encoding": {
                "x": {"datum": 2.002, "type": "quantitative", "scale": {"domain": [0, 4], "nice": false, "zero": false}, "axis": null},
                "y": {"datum": -0.1065, "type": "quantitative", "scale": {"domain": [0, 0.7], "nice": false, "zero": false}, "axis": null}
              }
            }
          ],
          "resolve": {"axis": {"x": "independent", "y": "independent"}}
        },
        {
          "layer": [
            {
              "data": {"name": "c"},
              "transform": [{"filter": "datum.x <= 0.6 && datum.v <= 0.42"}],
              "mark": {"type": "line", "strokeWidth": 1.3},
              "encoding": {
                "x": {"field": "x", "type": "quantitative", "scale": {"domain": [0, 0.6], "range": [186.5, 375.5], "nice": false, "zero": false},
                  "axis": {"orient": "bottom", "offset": -51.4, "values": [0, 0.2, 0.4, 0.6], "format": ".1f", "title": null, "grid": false, "domain": true, "domainColor": "#888", "domainWidth": 1, "ticks": false, "labelPadding": 5, "labelFontSize": 21, "labelFont": "Liberation Serif"}},
                "y": {"field": "v", "type": "quantitative", "scale": {"domain": [0.34, 0.42], "range": [332.6, 203], "nice": false, "zero": false},
                  "axis": {"orient": "left", "offset": -186.5, "values": [0.34, 0.36, 0.38, 0.4, 0.42], "format": ".2f", "title": null, "grid": true, "gridColor": "#c8c8c8", "domain": true, "domainColor": "#888", "domainWidth": 1, "ticks": false, "labelPadding": 8, "labelFontSize": 21, "labelFont": "Liberation Serif"}},
                "color": {"field": "s", "type": "nominal", "scale": {"domain": ["GLARE6-2/1", "GLARE6-3/2"], "range": ["#e8413f", "#4848dc"]}, "legend": null}
              }
            },
            {
              "data": {"name": "rc"},
              "mark": {"type": "rule", "color": "#e8413f", "strokeWidth": 1.3},
              "encoding": {
                "x": {"field": "x", "type": "quantitative", "scale": {"domain": [0, 0.6], "range": [186.5, 375.5], "nice": false, "zero": false},
                  "axis": {"orient": "top", "offset": -203, "values": [0, 0.2, 0.4, 0.6], "labels": false, "ticks": false, "domain": true, "domainColor": "#888", "domainWidth": 1, "grid": true, "gridColor": "#c8c8c8", "title": null}},
                "y": {"field": "y0", "type": "quantitative", "scale": {"domain": [0.34, 0.42], "range": [332.6, 203], "nice": false, "zero": false},
                  "axis": {"orient": "right", "offset": -146.5, "labels": false, "ticks": false, "domain": true, "domainColor": "#888", "domainWidth": 1, "grid": false, "title": null}},
                "y2": {"field": "y1"}
              }
            }
          ],
          "resolve": {"axis": {"x": "independent", "y": "independent"}}
        }
      ],
      "resolve": {"scale": {"x": "independent", "y": "independent"}}
    }
    ]}
  ],
  "spacing": 12,
  "resolve": {"scale": {"color": "independent"}}
}
